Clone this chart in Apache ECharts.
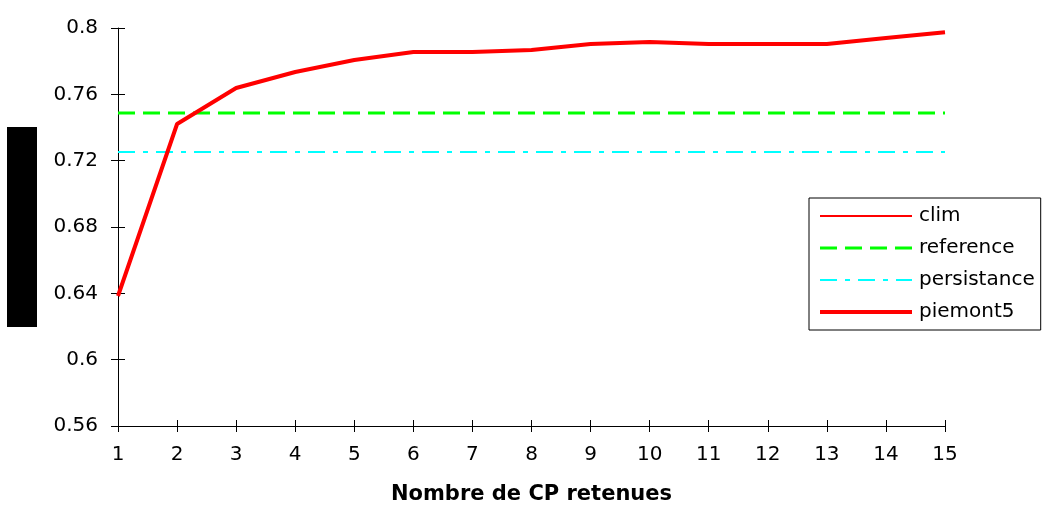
<!DOCTYPE html>
<html>
<head>
<meta charset="utf-8">
<script src="https://cdn.jsdelivr.net/npm/echarts@6/dist/echarts.min.js"></script>
<style>html,body{margin:0;padding:0;background:#fff}#c{width:1042px;height:509px}</style>
</head>
<body>
<div id="c"></div>
<script>
var categories = ['1','2','3','4','5','6','7','8','9','10','11','12','13','14','15'];
var clim = [];
var reference = [0.7487,0.7487,0.7487,0.7487,0.7487,0.7487,0.7487,0.7487,0.7487,0.7487,0.7487,0.7487,0.7487,0.7487,0.7487];
var persistance = [0.7252,0.7252,0.7252,0.7252,0.7252,0.7252,0.7252,0.7252,0.7252,0.7252,0.7252,0.7252,0.7252,0.7252,0.7252];
var piemont5 = [0.6384,0.7421,0.7638,0.7735,0.7807,0.7855,0.7855,0.7867,0.7903,0.7916,0.7903,0.7903,0.7903,0.7940,0.7974];
var yTicks = {min:0.56, max:0.8, interval:0.04};

var FONT = '"DejaVu Sans", sans-serif';
var chart = echarts.init(document.getElementById('c'));
chart.setOption({
  animation:false,
  backgroundColor:'#fff',
  grid:{left:118, right:97, top:28, bottom:83, containLabel:false, outerBoundsMode:'none'},
  legend:{
    orient:'vertical', left:809, top:198,
    padding:[8,6,8,9],
    backgroundColor:'#fff',
    borderColor:'#000', borderWidth:1,
    itemWidth:92, itemHeight:14, itemGap:12,
    itemStyle:{opacity:0},
    textStyle:{fontFamily:FONT, fontSize:20, color:'#000', padding:[0,0,0,2]},
    data:[
      {name:'clim', lineStyle:{width:2}},
      {name:'reference', lineStyle:{width:3}},
      {name:'persistance', lineStyle:{width:2}},
      {name:'piemont5', lineStyle:{width:4}}
    ]
  },
  graphic:[{type:'rect', shape:{x:7,y:127,width:30,height:200}, style:{fill:'#000'}}],
  xAxis:[{
    type:'category', data:categories, boundaryGap:false,
    axisLine:{show:true, lineStyle:{color:'#000', width:1}},
    axisTick:{show:true, alignWithLabel:true, length:6, lineStyle:{color:'#000'}},
    axisLabel:{fontFamily:FONT, fontSize:20, color:'#000', margin:19},
    splitLine:{show:false},
    name:'Nombre de CP retenues', nameLocation:'middle', nameGap:58,
    nameTextStyle:{fontFamily:FONT, fontSize:21, fontWeight:'bold', color:'#000'}
  },{
    type:'category', data:categories, boundaryGap:false, position:'bottom',
    axisLine:{show:false}, axisLabel:{show:false},
    axisTick:{show:true, inside:true, length:6, lineStyle:{color:'#000'}},
    splitLine:{show:false}
  }],
  yAxis:[{
    type:'value', min:yTicks.min, max:yTicks.max, interval:yTicks.interval,
    axisLine:{show:true, lineStyle:{color:'#000', width:1}},
    axisTick:{show:true, length:7, lineStyle:{color:'#000'}},
    axisLabel:{fontFamily:FONT, fontSize:20, color:'#000', margin:20},
    splitLine:{show:false}
  },{
    type:'value', min:yTicks.min, max:yTicks.max, interval:yTicks.interval, position:'left',
    axisLine:{show:false}, axisLabel:{show:false},
    axisTick:{show:true, inside:true, length:7, lineStyle:{color:'#000'}},
    splitLine:{show:false}
  }],
  series:[
    {name:'clim', type:'line', data:clim, symbol:'none',
     lineStyle:{color:'#ff0000', width:2}, itemStyle:{color:'#ff0000'}},
    {name:'reference', type:'line', data:reference, symbol:'none',
     lineStyle:{color:'#00ff00', width:3, type:[17,8]}, itemStyle:{color:'#00ff00'}},
    {name:'persistance', type:'line', data:persistance, symbol:'none',
     lineStyle:{color:'#00ffff', width:2, type:[17,8,5,8]}, itemStyle:{color:'#00ffff'}},
    {name:'piemont5', type:'line', data:piemont5, symbol:'none',
     lineStyle:{color:'#ff0000', width:4}, itemStyle:{color:'#ff0000'}, z:5}
  ]
});
</script>
</body>
</html>
